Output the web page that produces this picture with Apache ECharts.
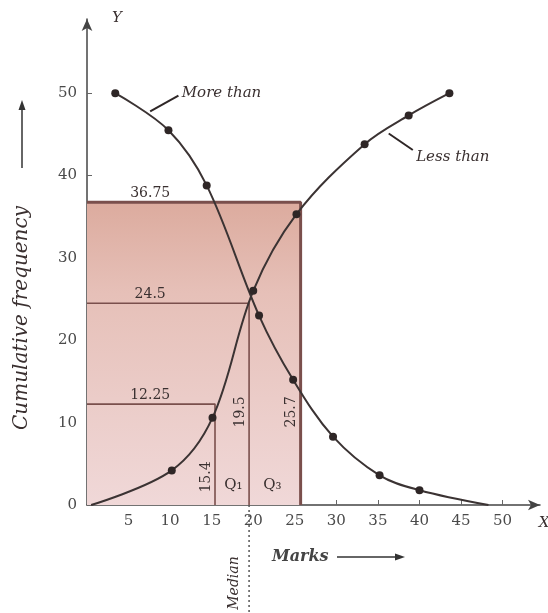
<!DOCTYPE html>
<html>
<head>
<meta charset="utf-8">
<script src="https://cdn.jsdelivr.net/npm/echarts@6/dist/echarts.min.js"></script>
<style>
  html, body { margin: 0; padding: 0; background: #fff; }
  #chart { width: 548px; height: 613px; }
</style>
</head>
<body>
<div id="chart"></div>
<script>
// ogives: [marks, cumulative frequency]
const moreThan = [[3.4, 50], [9.8, 45.5], [14.4, 38.8], [20.7, 23], [24.8, 15.2], [29.6, 8.3], [35.2, 3.6], [40, 1.8], [48.3, 0]]
const lessThan = [[0.5, 0], [10.2, 4.2], [15.1, 10.6], [20, 26], [25.2, 35.3], [33.4, 43.8], [38.7, 47.3], [43.6, 50]]

// quartile guides: N/4, N/2, 3N/4 and the marks they give
const quartileLevels = [12.25, 24.5, 36.75]
const quartileMarks = [15.4, 19.5, 25.7]

const xTicks = [5, 10, 15, 20, 25, 30, 35, 40, 45, 50]
const yTicks = [0, 10, 20, 30, 40, 50]

const serif = '"DejaVu Serif", "Liberation Serif", serif'
const ink = '#2e2626'
const guideColor = '#7a4f4c'

const chart = echarts.init(document.getElementById('chart'))

const curveData = (points, hiddenIndex) =>
  points.map((p, i) => (i === hiddenIndex ? { value: p, symbol: 'none' } : p))

const guideSeries = quartileLevels.map((level, i) => ({
  type: 'line',
  z: 1,
  data: [[0, level], [quartileMarks[i], level], [quartileMarks[i], 0]],
  symbol: 'none',
  lineStyle: { color: guideColor, width: i === 2 ? 3 : 1.6 },
  markArea: i === 2 ? {
    silent: true,
    itemStyle: {
      color: new echarts.graphic.LinearGradient(0, 0, 0, 1, [
        { offset: 0, color: '#dcab9e' },
        { offset: 0.3, color: '#e6c0b8' },
        { offset: 1, color: '#f0d8d8' },
      ]),
    },
    data: [[{ coord: [0, 0] }, { coord: [quartileMarks[i], level] }]],
  } : undefined,
}))

const curveStyle = {
  type: 'line',
  z: 3,
  smooth: 0.35,
  symbol: 'circle',
  symbolSize: 8,
  itemStyle: { color: ink },
  lineStyle: { color: '#3b3333', width: 2 },
}

chart.setOption({
  animation: false,
  grid: { left: 87, right: 8, top: 19, bottom: 108 },
  xAxis: {
    type: 'value',
    min: 0,
    max: 54.5,
    interval: 5,
    splitLine: { show: false },
    axisLine: { symbol: ['none', 'arrow'], symbolSize: [8, 12], lineStyle: { color: '#444', width: 1.5 } },
    axisTick: { inside: true, length: 5, lineStyle: { color: '#666' } },
    axisLabel: {
      color: '#4a4a4a', fontFamily: serif, fontSize: 15, margin: 9,
      showMinLabel: false, showMaxLabel: false,
      formatter: v => (xTicks.includes(v) ? String(v) : ''),
    },
  },
  yAxis: {
    type: 'value',
    min: 0,
    max: 59,
    interval: 10,
    splitLine: { show: false },
    axisLine: { show: true, symbol: ['none', 'arrow'], symbolSize: [8, 12], lineStyle: { color: '#444', width: 1.5 } },
    axisTick: { inside: true, length: 5, lineStyle: { color: '#666' } },
    axisLabel: {
      color: '#4a4a4a', fontFamily: serif, fontSize: 15, margin: 10,
      showMaxLabel: false,
      formatter: v => (yTicks.includes(v) ? String(v) : ''),
    },
  },
  series: [
    ...guideSeries,
    Object.assign({ name: 'More than', data: curveData(moreThan, moreThan.length - 1) }, curveStyle),
    Object.assign({ name: 'Less than', data: curveData(lessThan, 0) }, curveStyle),
  ],
})

// annotations placed through the chart's own scales
const px = (x, y) => chart.convertToPixel({ gridIndex: 0 }, [x, y])
const origin = px(0, 0)

const text = (str, pos, extra) => ({
  type: 'text',
  x: pos[0],
  y: pos[1],
  z: 10,
  style: Object.assign({
    text: str,
    fill: '#3a3030',
    font: '14px ' + serif,
    textAlign: 'center',
    textVerticalAlign: 'middle',
  }, extra || {}),
})

const rotated = (str, pos, extra) => Object.assign(text(str, pos, extra), { rotation: Math.PI / 2 })

const leader = (a, b) => ({
  type: 'line',
  z: 10,
  shape: { x1: a[0], y1: a[1], x2: b[0], y2: b[1] },
  style: { stroke: ink, lineWidth: 2 },
})

const graphics = []

quartileLevels.forEach(level => {
  const p = px(7.6, level)
  graphics.push(text(String(level), [p[0], p[1] - 9]))
})

const q1 = px(quartileMarks[0], 0)
graphics.push(rotated(String(quartileMarks[0]), [q1[0] - 9, q1[1] - 28]))
const med = px(quartileMarks[1], 11.3)
graphics.push(rotated(String(quartileMarks[1]), [med[0] - 9, med[1]]))
const q3 = px(quartileMarks[2], 11.3)
graphics.push(rotated(String(quartileMarks[2]), [q3[0] - 9, q3[1]]))

graphics.push(text('Q₁', px(17.6, 2.4), { font: '15px ' + serif }))
graphics.push(text('Q₃', px(22.3, 2.4), { font: '15px ' + serif }))

// median drop line below the axis
const medBase = px(quartileMarks[1], 0)
graphics.push({
  type: 'line',
  z: 10,
  shape: { x1: medBase[0], y1: medBase[1], x2: medBase[0], y2: 613 },
  style: { stroke: '#555', lineWidth: 1.5, lineDash: [2, 3] },
})
graphics.push(rotated('Median', [medBase[0] - 15, medBase[1] + 78], { font: 'italic 14px ' + serif }))

// curve names with leader ticks
graphics.push(text('More than', px(11.4, 50), { font: 'italic 15px ' + serif, textAlign: 'left' }))
graphics.push(leader(px(7.6, 47.8), px(11, 49.7)))
graphics.push(text('Less than', px(39.6, 42.2), { font: 'italic 15px ' + serif, textAlign: 'left' }))
graphics.push(leader(px(36.3, 45.1), px(39.2, 43.1)))

// axis titles with their arrows
const arrow = (x1, y1, x2, y2) => {
  const ang = Math.atan2(y2 - y1, x2 - x1)
  const back = (d, off) => [x2 - d * Math.cos(ang) + off * Math.sin(ang), y2 - d * Math.sin(ang) - off * Math.cos(ang)]
  return [
    { type: 'line', z: 10, shape: { x1, y1, x2: back(6, 0)[0], y2: back(6, 0)[1] }, style: { stroke: '#333', lineWidth: 1.5 } },
    { type: 'polygon', z: 10, shape: { points: [[x2, y2], back(10, 3.5), back(10, -3.5)] }, style: { fill: '#333' } },
  ]
}

graphics.push(text('Marks', [origin[0] + 185, origin[1] + 52], { font: 'italic bold 16px ' + serif, textAlign: 'left', fill: '#444' }))
graphics.push(...arrow(origin[0] + 250, origin[1] + 52, origin[0] + 318, origin[1] + 52))
graphics.push(rotated('Cumulative frequency', [22, 318], { font: 'italic 20px ' + serif }))
graphics.push(...arrow(22, 168, 22, 100))
graphics.push(text('Y', [origin[0] + 30, 18], { font: 'italic 15px ' + serif }))
graphics.push(text('X', [544, origin[1] + 18], { font: 'italic 15px ' + serif }))

chart.setOption({ graphic: graphics })
</script>
</body>
</html>
